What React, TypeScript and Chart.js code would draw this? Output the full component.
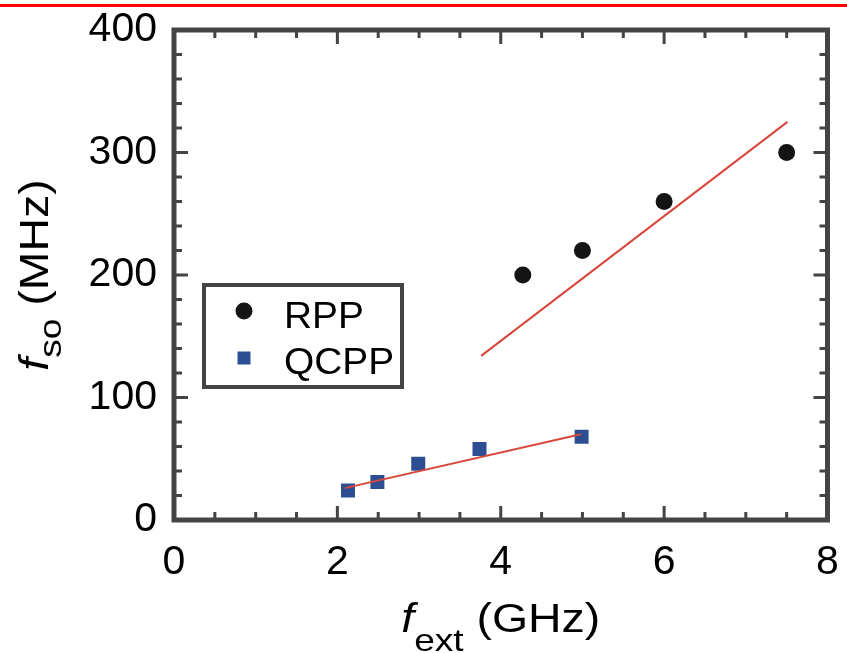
import React, { useEffect, useRef } from "react";
import { Chart, registerables } from "chart.js";

Chart.register(...registerables);

// ---- data ----
const rppX = [4.27, 5.0, 6.0, 7.5];
const rppY = [200, 220, 260, 300];
const qcppX = [2.13, 2.49, 2.99, 3.74, 4.99];
const qcppY = [24, 31, 46, 58, 68];
const rppFitX = [3.76, 7.51];
const rppFitY = [134, 325];
const qcppFitX = [2.09, 4.98];
const qcppFitY = [26, 70];
const xLimits = [0, 8];
const yLimits = [0, 400];
const xMajorStep = 2;
const yMajorStep = 100;
const xMinorStep = 0.5;
const yMinorStep = 20;
const legendLabels = ["RPP", "QCPP"];

const FONT = "'Liberation Sans', Arial, Helvetica, sans-serif";
const AXIS_COLOR = "#444444";
const RPP_COLOR = "#141414";
const QCPP_COLOR = "#2d4e92";
const FIT_COLOR = "#d8473b";

type Part = { text: string; size: number; italic?: boolean; dy?: number };

function drawRich(ctx: CanvasRenderingContext2D, parts: Part[], sx: number) {
  let total = 0;
  const widths: number[] = [];
  for (const p of parts) {
    ctx.font = `${p.italic ? "italic " : ""}${p.size}px ${FONT}`;
    const w = ctx.measureText(p.text).width;
    widths.push(w);
    total += w;
  }
  ctx.save();
  ctx.scale(sx, 1);
  let x = -total / 2;
  parts.forEach((p, i) => {
    ctx.font = `${p.italic ? "italic " : ""}${p.size}px ${FONT}`;
    ctx.fillText(p.text, x, p.dy || 0);
    x += widths[i];
  });
  ctx.restore();
}

const framePlugin = {
  id: "frameTicks",
  afterDatasetsDraw(chart: any) {
    const { ctx, chartArea } = chart;
    const xs = chart.scales.x;
    const ys = chart.scales.y;
    const { left, right, top, bottom } = chartArea;
    ctx.save();
    ctx.strokeStyle = AXIS_COLOR;
    ctx.lineCap = "butt";
    ctx.lineWidth = 3;
    ctx.beginPath();
    for (let v = xLimits[0]; v <= xLimits[1] + 1e-9; v += xMinorStep) {
      const major = Math.abs(v / xMajorStep - Math.round(v / xMajorStep)) < 1e-6;
      const len = major ? 14 : 8;
      const px = xs.getPixelForValue(v);
      ctx.moveTo(px, bottom);
      ctx.lineTo(px, bottom - len);
      ctx.moveTo(px, top);
      ctx.lineTo(px, top + len);
    }
    for (let v = yLimits[0]; v <= yLimits[1] + 1e-9; v += yMinorStep) {
      const major = Math.abs(v / yMajorStep - Math.round(v / yMajorStep)) < 1e-6;
      const len = major ? 14 : 8;
      const py = ys.getPixelForValue(v);
      ctx.moveTo(left, py);
      ctx.lineTo(left + len, py);
      ctx.moveTo(right, py);
      ctx.lineTo(right - len, py);
    }
    ctx.stroke();
    ctx.lineWidth = 5;
    ctx.lineJoin = "miter";
    ctx.strokeRect(left, top, right - left, bottom - top);
    ctx.restore();
  },
  afterDraw(chart: any) {
    const { ctx, chartArea } = chart;
    const { left, right, top, bottom } = chartArea;
    ctx.save();
    ctx.fillStyle = "#000";
    ctx.textBaseline = "alphabetic";
    // x title
    ctx.save();
    ctx.translate((left + right) / 2, 632);
    drawRich(
      ctx,
      [
        { text: "f", size: 40, italic: true },
        { text: "ext", size: 32, dy: 19 },
        { text: " (GHz)", size: 40 },
      ],
      1.16
    );
    ctx.restore();
    // y title
    ctx.save();
    ctx.translate(48, (top + bottom) / 2);
    ctx.rotate(-Math.PI / 2);
    drawRich(
      ctx,
      [
        { text: "f", size: 40, italic: true },
        { text: "so", size: 32, dy: 13 },
        { text: " (MHz)", size: 40 },
      ],
      1.16
    );
    ctx.restore();

    // legend box
    const bx = left + 30;
    const by = top + 255;
    const bw = 198;
    const bh = 102;
    ctx.fillStyle = "#fff";
    ctx.fillRect(bx, by, bw, bh);
    ctx.strokeStyle = AXIS_COLOR;
    ctx.lineWidth = 4;
    ctx.strokeRect(bx, by, bw, bh);
    ctx.fillStyle = RPP_COLOR;
    ctx.beginPath();
    ctx.arc(bx + 40, by + 26, 8.5, 0, Math.PI * 2);
    ctx.fill();
    ctx.fillStyle = QCPP_COLOR;
    ctx.fillRect(bx + 40 - 6.5, by + 73 - 6.5, 13, 13);
    ctx.fillStyle = "#000";
    ctx.font = `36px ${FONT}`;
    ctx.save();
    ctx.translate(bx + 80, 0);
    ctx.scale(1.08, 1);
    ctx.fillText(legendLabels[0], 0, by + 43);
    ctx.fillText(legendLabels[1], 0, by + 89);
    ctx.restore();
    ctx.restore();
  },
};

export default function App() {
  const ref = useRef<HTMLCanvasElement | null>(null);
  useEffect(() => {
    document.body.style.margin = "0";
    const canvas = ref.current;
    if (!canvas) return;
    const chart = new Chart(canvas, {
      type: "scatter",
      data: {
        datasets: [
          {
            label: "RPP fit",
            data: rppFitX.map((x, i) => ({ x, y: rppFitY[i] })),
            showLine: true,
            borderColor: FIT_COLOR,
            borderWidth: 2,
            pointRadius: 0,
            order: 0,
          },
          {
            label: "QCPP fit",
            data: qcppFitX.map((x, i) => ({ x, y: qcppFitY[i] })),
            showLine: true,
            borderColor: FIT_COLOR,
            borderWidth: 2,
            pointRadius: 0,
            order: 0,
          },
          {
            label: legendLabels[0],
            data: rppX.map((x, i) => ({ x, y: rppY[i] })),
            pointStyle: "circle",
            pointRadius: 8.5,
            backgroundColor: RPP_COLOR,
            borderColor: RPP_COLOR,
            borderWidth: 0,
            order: 1,
          },
          {
            label: legendLabels[1],
            data: qcppX.map((x, i) => ({ x, y: qcppY[i] })),
            pointStyle: "rect",
            pointRadius: 9.9,
            backgroundColor: QCPP_COLOR,
            borderColor: QCPP_COLOR,
            borderWidth: 0,
            order: 1,
          },
        ],
      },
      options: {
        animation: false,
        responsive: false,
        events: [],
        layout: { padding: { top: 30, right: 19.5, left: 0, bottom: 0 } },
        plugins: {
          legend: { display: false },
          tooltip: { enabled: false },
          title: { display: false },
        },
        scales: {
          x: {
            type: "linear",
            min: xLimits[0],
            max: xLimits[1],
            grid: { display: false, drawTicks: false },
            border: { display: false },
            ticks: {
              stepSize: xMajorStep,
              color: "#000",
              font: { family: FONT, size: 41 },
              padding: 18,
              maxRotation: 0,
              minRotation: 0,
            },
            afterFit(scale: any) {
              scale.height = 133;
              scale.paddingLeft = 0;
              scale.paddingRight = 0;
            },
          },
          y: {
            type: "linear",
            min: yLimits[0],
            max: yLimits[1],
            grid: { display: false, drawTicks: false },
            border: { display: false },
            ticks: {
              stepSize: yMajorStep,
              color: "#000",
              font: { family: FONT, size: 41 },
              padding: 17,
            },
            afterFit(scale: any) {
              scale.width = 174;
              scale.paddingTop = 0;
              scale.paddingBottom = 0;
            },
          },
        },
      },
      plugins: [framePlugin],
    });
    return () => chart.destroy();
  }, []);

  return (
    <div style={{ position: "relative", width: 847, height: 653, background: "#fff" }}>
      <div
        style={{
          position: "absolute",
          left: 0,
          top: 4,
          width: 847,
          height: 3,
          background: "#ff0000",
        }}
      />
      <canvas ref={ref} width={847} height={653} style={{ display: "block" }} />
    </div>
  );
}
